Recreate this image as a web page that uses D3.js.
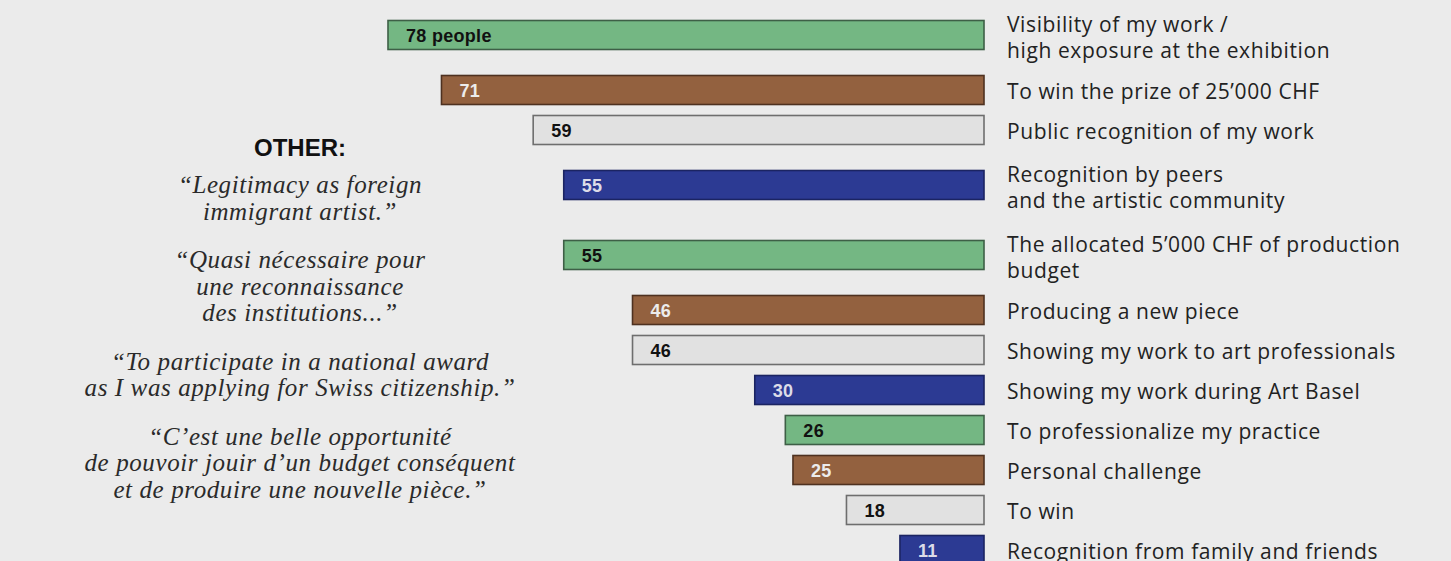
<!DOCTYPE html>
<html>
<head>
<meta charset="utf-8">
<script src="https://cdn.jsdelivr.net/npm/d3@7"></script>
<style>
  body { margin: 0; background: #ebebeb; }
  svg { display: block; }
  .cat { font-family: "Open Sans", sans-serif; font-size: 21px; fill: #222; letter-spacing: 0.6px; }
  .val { font-family: "Liberation Sans", Arial, sans-serif; font-size: 18px; font-weight: bold; letter-spacing: 0.3px; }
  .other { font-family: "Liberation Sans", Arial, sans-serif; font-size: 24px; font-weight: bold; fill: #111; }
  .quote { font-family: "Liberation Serif", serif; font-style: italic; font-size: 25px; fill: #2a2a2a; letter-spacing: 0.6px; }
</style>
</head>
<body>
<svg width="1451" height="561"></svg>
<script>

// reasons, one entry per bar (lines of the label)
var categories = [
  ["Visibility of my work /", "high exposure at the exhibition"],
  ["To win the prize of 25\u2019000 CHF"],
  ["Public recognition of my work"],
  ["Recognition by peers", "and the artistic community"],
  ["The allocated 5\u2019000 CHF of production", "budget"],
  ["Producing a new piece"],
  ["Showing my work to art professionals"],
  ["Showing my work during Art Basel"],
  ["To professionalize my practice"],
  ["Personal challenge"],
  ["To win"],
  ["Recognition from family and friends"]
];

var values = [78, 71, 59, 55, 55, 46, 46, 30, 26, 25, 18, 11];

var otherTitle = "OTHER:";
var quotes = [
  ["\u201CLegitimacy as foreign", "immigrant artist.\u201D"],
  ["\u201CQuasi n\u00E9cessaire pour", "une reconnaissance", "des institutions...\u201D"],
  ["\u201CTo participate in a national award", "as I was applying for Swiss citizenship.\u201D"],
  ["\u201CC\u2019est une belle opportunit\u00E9", "de pouvoir jouir d\u2019un budget cons\u00E9quent", "et de produire une nouvelle pi\u00E8ce.\u201D"]
];

var svg = d3.select('svg'),
    width =+ svg.attr("width"),
    height =+ svg.attr("height");

var fills   = ["#74b783", "#93613f", "#e1e1e1", "#2c3a93"];
var strokes = ["#3e5f46", "#4e3120", "#6e6e6e", "#1b2462"];
var inks    = ["#111", "#ececec", "#111", "#dcdce8"];

var barH = 29;

// rows are taller when the label needs two lines
var slots = categories.map(function(c) { return c.length > 1 ? 70 : 40; });
var starts = [];
var acc = 0;
slots.forEach(function(s) { starts.push(acc); acc += s; });

var y = d3.scaleLinear().domain([0, acc]).range([0, acc]);
function rowCenter(i) { return y(starts[i] + slots[i] / 2); }

var x = d3.scaleLinear()
    .domain([0, 78])
    .range([984, 388]);

var rows = svg.append("g")
  .selectAll("g")
  .data(values)
  .enter().append("g")
    .attr("transform", function(d, i) { return "translate(0," + rowCenter(i) + ")"; });

rows.append("rect")
    .attr("x", function(d) { return x(d); })
    .attr("y", -barH / 2)
    .attr("width", function(d) { return x(0) - x(d); })
    .attr("height", barH)
    .attr("fill", function(d, i) { return fills[i % 4]; })
    .attr("stroke", function(d, i) { return strokes[i % 4]; })
    .attr("stroke-width", 1.6);

rows.append("text")
    .attr("class", "val")
    .attr("x", function(d) { return x(d) + 18; })
    .attr("y", 6.5)
    .attr("fill", function(d, i) { return inks[i % 4]; })
    .text(function(d, i) { return i === 0 ? d + " people" : d; });

var labels = rows.append("text")
    .attr("class", "cat")
    .attr("x", 1007);

labels.selectAll("tspan")
  .data(function(d, i) { return categories[i].map(function(t, j) { return { t: t, j: j, n: categories[i].length }; }); })
  .enter().append("tspan")
    .attr("x", 1007)
    .attr("y", function(d) { return 8.5 + (d.j - (d.n - 1) / 2) * 26.5 + (d.n - 1) * 1.5; })
    .text(function(d) { return d.t; });

// left annotation block
var note = svg.append("g").attr("transform", "translate(300,0)");

note.append("text")
    .attr("class", "other")
    .attr("text-anchor", "middle")
    .attr("y", 156)
    .text(otherTitle);

var lineY = 193;
quotes.forEach(function(q, k) {
  q.forEach(function(line) {
    note.append("text")
        .attr("class", "quote")
        .attr("text-anchor", "middle")
        .attr("y", lineY)
        .text(line);
    lineY += 26.5;
  });
  lineY += 22;
});

</script>
</body>
</html>
